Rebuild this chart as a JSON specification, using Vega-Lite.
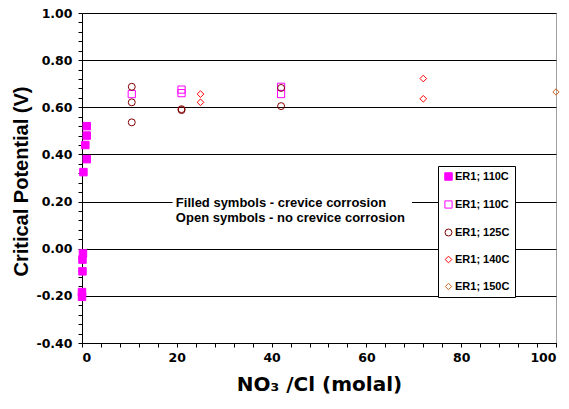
{
  "$schema": "https://vega.github.io/schema/vega-lite/v6.json",
  "width": 474,
  "height": 330,
  "autosize": "none",
  "padding": {"left": 82, "top": 13, "right": 13, "bottom": 66},
  "background": "white",
  "config": {
    "view": {"stroke": "#a0a0a0", "strokeWidth": 1},
    "font": "Liberation Sans",
    "axis": {
      "labelFont": "DejaVu Sans", "labelFontWeight": "bold", "labelFontSize": 12.5, "labelColor": "black",
      "titleFont": "Liberation Sans", "titleFontWeight": "bold", "titleFontSize": 20, "titleColor": "black",
      "domainColor": "black", "tickColor": "black", "gridColor": "black", "labelOverlap": false
    },
    "legend": {
      "labelFont": "Liberation Sans", "labelFontWeight": "bold", "labelFontSize": 11, "labelColor": "black",
      "strokeColor": "black", "fillColor": "white", "padding": 5, "rowPadding": 15, "labelOffset": 1,
      "symbolStrokeWidth": 1
    }
  },
  "datasets": {
    "pts": [
      {"series": "ER1; 110C (filled)", "x": 1.0, "y": 0.52},
      {"series": "ER1; 110C (filled)", "x": 1.0, "y": 0.48},
      {"series": "ER1; 110C (filled)", "x": 0.7, "y": 0.44},
      {"series": "ER1; 110C (filled)", "x": 1.0, "y": 0.38},
      {"series": "ER1; 110C (filled)", "x": 0.3, "y": 0.325},
      {"series": "ER1; 110C (filled)", "x": 0.2, "y": -0.02},
      {"series": "ER1; 110C (filled)", "x": 0.1, "y": -0.046},
      {"series": "ER1; 110C (filled)", "x": 0.1, "y": -0.096},
      {"series": "ER1; 110C (filled)", "x": 0.0, "y": -0.184},
      {"series": "ER1; 110C (filled)", "x": 0.0, "y": -0.204},
      {"series": "ER1; 110C (open)", "x": 10.5, "y": 0.656},
      {"series": "ER1; 110C (open)", "x": 21, "y": 0.675},
      {"series": "ER1; 110C (open)", "x": 21, "y": 0.66},
      {"series": "ER1; 110C (open)", "x": 42, "y": 0.687},
      {"series": "ER1; 110C (open)", "x": 42, "y": 0.656},
      {"series": "ER1; 125C", "x": 10.5, "y": 0.687},
      {"series": "ER1; 125C", "x": 10.5, "y": 0.621},
      {"series": "ER1; 125C", "x": 10.5, "y": 0.536},
      {"series": "ER1; 125C", "x": 21, "y": 0.592},
      {"series": "ER1; 125C", "x": 21, "y": 0.588},
      {"series": "ER1; 125C", "x": 42, "y": 0.682},
      {"series": "ER1; 125C", "x": 42, "y": 0.605},
      {"series": "ER1; 140C", "x": 25, "y": 0.656},
      {"series": "ER1; 140C", "x": 25, "y": 0.621},
      {"series": "ER1; 140C", "x": 72, "y": 0.722},
      {"series": "ER1; 140C", "x": 72, "y": 0.636},
      {"series": "ER1; 150C", "x": 100, "y": 0.665}
    ]
  },
  "layer": [
    {
      "data": {"values": [{}]},
      "mark": {"type": "rect", "fill": "white"},
      "encoding": {
        "x": {"datum": 19.1, "type": "quantitative"},
        "x2": {"datum": 69.6},
        "y": {"datum": 0.19, "type": "quantitative"},
        "y2": {"datum": 0.21}
      }
    },
    {
      "data": {"values": [{}]},
      "mark": {"type": "text", "text": ["Filled symbols - crevice corrosion", "Open symbols - no crevice corrosion"], "align": "left", "baseline": "middle", "font": "Liberation Sans", "fontWeight": "bold", "fontSize": 13, "lineHeight": 15, "color": "black", "dy": 1},
      "encoding": {
        "x": {"datum": 19.8, "type": "quantitative"},
        "y": {"datum": 0.2, "type": "quantitative"}
      }
    },
    {
      "data": {"name": "pts"},
      "mark": {"type": "point", "strokeWidth": 1, "opacity": 1},
      "encoding": {
        "x": {
          "field": "x", "type": "quantitative", "title": "NO₃ /Cl (molal)",
          "scale": {"domain": [0, 100], "nice": false, "zero": false},
          "axis": {
            "values": [0,4,8,12,16,20,24,28,32,36,40,44,48,52,56,60,64,68,72,76,80,84,88,92,96,100],
            "tickCount": 200,
            "labelExpr": "round(datum.value) % 20 === 0 ? format(datum.value, 'd') : ''",
            "grid": false, "tickSize": 4, "labelPadding": 4, "titlePadding": 11,
            "titleFont": "DejaVu Sans", "titleFontSize": 20
          }
        },
        "y": {
          "field": "y", "type": "quantitative", "title": "Critical Potential (V)",
          "scale": {"domain": [-0.4, 1.0], "nice": false, "zero": false},
          "axis": {
            "values": [-0.4,-0.36,-0.32,-0.28,-0.24,-0.2,-0.16,-0.12,-0.08,-0.04,0,0.04,0.08,0.12,0.16,0.2,0.24,0.28,0.32,0.36,0.4,0.44,0.48,0.52,0.56,0.6,0.64,0.68,0.72,0.76,0.8,0.84,0.88,0.92,0.96,1.0],
            "tickCount": 200,
            "labelExpr": "abs(round(datum.value*100)) % 20 === 0 ? (datum.value < -0.001 ? '-' : '') + format(abs(datum.value), '.2f') : ''",
            "grid": true,
            "gridOpacity": {"condition": {"test": "abs(round(datum.value*100)) % 20 === 0", "value": 1}, "value": 0},
            "tickSize": 4, "labelPadding": 6, "titlePadding": 4, "titleY": 168
          }
        },
        "stroke": {
          "field": "series", "type": "nominal", "title": null,
          "scale": {"domain": ["ER1; 110C (filled)", "ER1; 110C (open)", "ER1; 125C", "ER1; 140C", "ER1; 150C"], "range": ["#FF00FF", "#FF00FF", "#800000", "#FF0000", "#C8641E"]},
          "legend": {"orient": "none", "legendX": 356, "legendY": 153, "labelExpr": "split(datum.label, ' (')[0]", "title": null}
        },
        "fill": {
          "field": "series", "type": "nominal", "title": null,
          "scale": {"domain": ["ER1; 110C (filled)", "ER1; 110C (open)", "ER1; 125C", "ER1; 140C", "ER1; 150C"], "range": ["#FF00FF", "transparent", "transparent", "transparent", "transparent"]},
          "legend": {"orient": "none", "legendX": 356, "legendY": 153, "labelExpr": "split(datum.label, ' (')[0]", "title": null}
        },
        "shape": {
          "field": "series", "type": "nominal", "title": null,
          "scale": {"domain": ["ER1; 110C (filled)", "ER1; 110C (open)", "ER1; 125C", "ER1; 140C", "ER1; 150C"], "range": ["square", "square", "circle", "diamond", "diamond"]},
          "legend": {"orient": "none", "legendX": 356, "legendY": 153, "labelExpr": "split(datum.label, ' (')[0]", "title": null}
        },
        "size": {
          "field": "series", "type": "nominal", "title": null,
          "scale": {"domain": ["ER1; 110C (filled)", "ER1; 110C (open)", "ER1; 125C", "ER1; 140C", "ER1; 150C"], "range": [56, 40, 36, 80, 80]},
          "legend": {"orient": "none", "legendX": 356, "legendY": 153, "labelExpr": "split(datum.label, ' (')[0]", "title": null}
        }
      }
    }
  ]
}
